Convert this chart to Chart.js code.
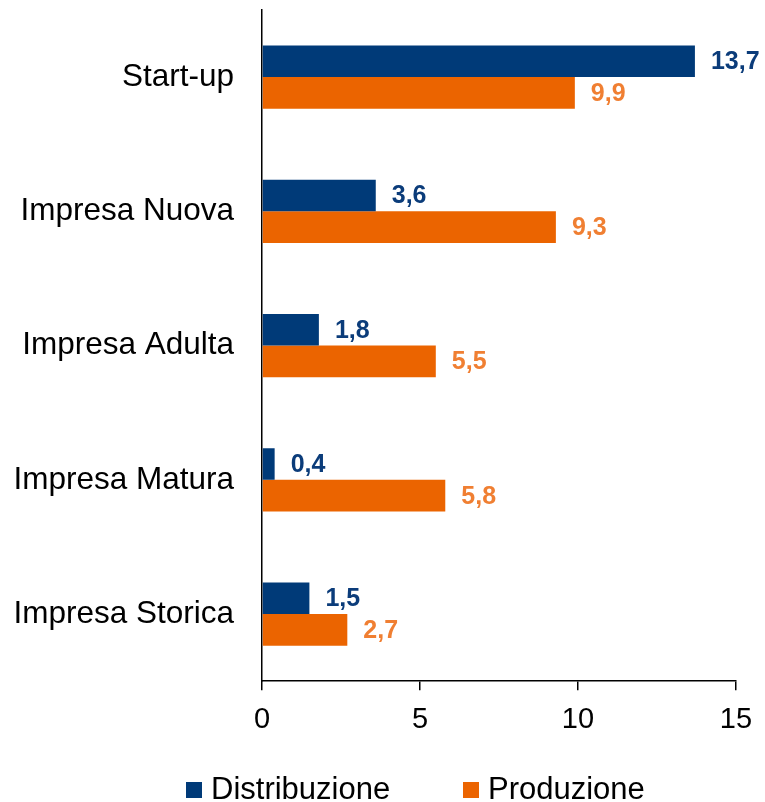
<!DOCTYPE html>
<html>
<head>
<meta charset="utf-8">
<script src="https://cdn.jsdelivr.net/npm/chart.js@4"></script>
<style>
  html, body { margin: 0; padding: 0; background: #fff; }
  #wrap { width: 765px; height: 802px; }
</style>
</head>
<body>
<div id="wrap"><canvas id="chart"></canvas></div>
<script>
// data
const categories    = ["Start-up", "Impresa Nuova", "Impresa Adulta", "Impresa Matura", "Impresa Storica"];
const distribuzione = [13.7, 3.6, 1.8, 0.4, 1.5];
const produzione    = [9.9, 9.3, 5.5, 5.8, 2.7];
const xTicks        = [0, 5, 10, 15];

const BLUE = "#003a78";
const ORANGE = "#eb6400";
const FONT = "'Liberation Sans', Arial, sans-serif";

// value labels at bar ends
const valueLabels = {
  id: "valueLabels",
  afterDatasetsDraw(chart) {
    const ctx = chart.ctx;
    const colors = ["#0b3c7a", "#f07f32"];
    ctx.save();
    ctx.font = "bold 25px " + FONT;
    ctx.textBaseline = "middle";
    ctx.textAlign = "left";
    chart.data.datasets.forEach((ds, i) => {
      chart.getDatasetMeta(i).data.forEach((bar, j) => {
        ctx.fillStyle = colors[i];
        ctx.fillText(ds.data[j].toFixed(1).replace(".", ","), bar.x + 16, bar.y + 1);
      });
    });
    ctx.restore();
  }
};

// simple legend drawn at the bottom
const bottomLegend = {
  id: "bottomLegend",
  afterDraw(chart) {
    const ctx = chart.ctx;
    const xs = [186, 463];
    ctx.save();
    ctx.font = "31px " + FONT;
    ctx.textBaseline = "middle";
    ctx.textAlign = "left";
    chart.data.datasets.forEach((ds, i) => {
      ctx.fillStyle = ds.backgroundColor;
      ctx.fillRect(xs[i], 782, 16, 16);
      ctx.fillStyle = "#000";
      ctx.fillText(ds.label, xs[i] + 25, 790);
    });
    ctx.restore();
  }
};

new Chart(document.getElementById("chart"), {
  type: "bar",
  data: {
    labels: categories,
    datasets: [
      { label: "Distribuzione", data: distribuzione, backgroundColor: BLUE },
      { label: "Produzione", data: produzione, backgroundColor: ORANGE }
    ]
  },
  options: {
    indexAxis: "y",
    responsive: true,
    maintainAspectRatio: false,
    animation: false,
    layout: { padding: { top: 10, right: 29, left: 0, bottom: 53 } },
    datasets: { bar: { categoryPercentage: 0.47, barPercentage: 1.0 } },
    plugins: {
      tooltip: { enabled: false },
      legend: { display: false }
    },
    scales: {
      x: {
        min: 0, max: 15,
        afterBuildTicks: s => { s.ticks = xTicks.map(v => ({ value: v })); },
        grid: { drawOnChartArea: false, drawTicks: true, tickLength: 9, color: "#000", lineWidth: 1.5 },
        border: { display: true, color: "#000", width: 1.5 },
        ticks: { color: "#000", padding: 12, font: { family: FONT, size: 29 } }
      },
      y: {
        afterFit: s => { s.width = 262; s.paddingTop = 0; s.paddingBottom = 0; },
        grid: { display: false, drawTicks: false },
        border: { display: true, color: "#000", width: 1.5 },
        ticks: { color: "#000", padding: 28, font: { family: FONT, size: 31.5 } }
      }
    }
  },
  plugins: [valueLabels, bottomLegend]
});
</script>
</body>
</html>
